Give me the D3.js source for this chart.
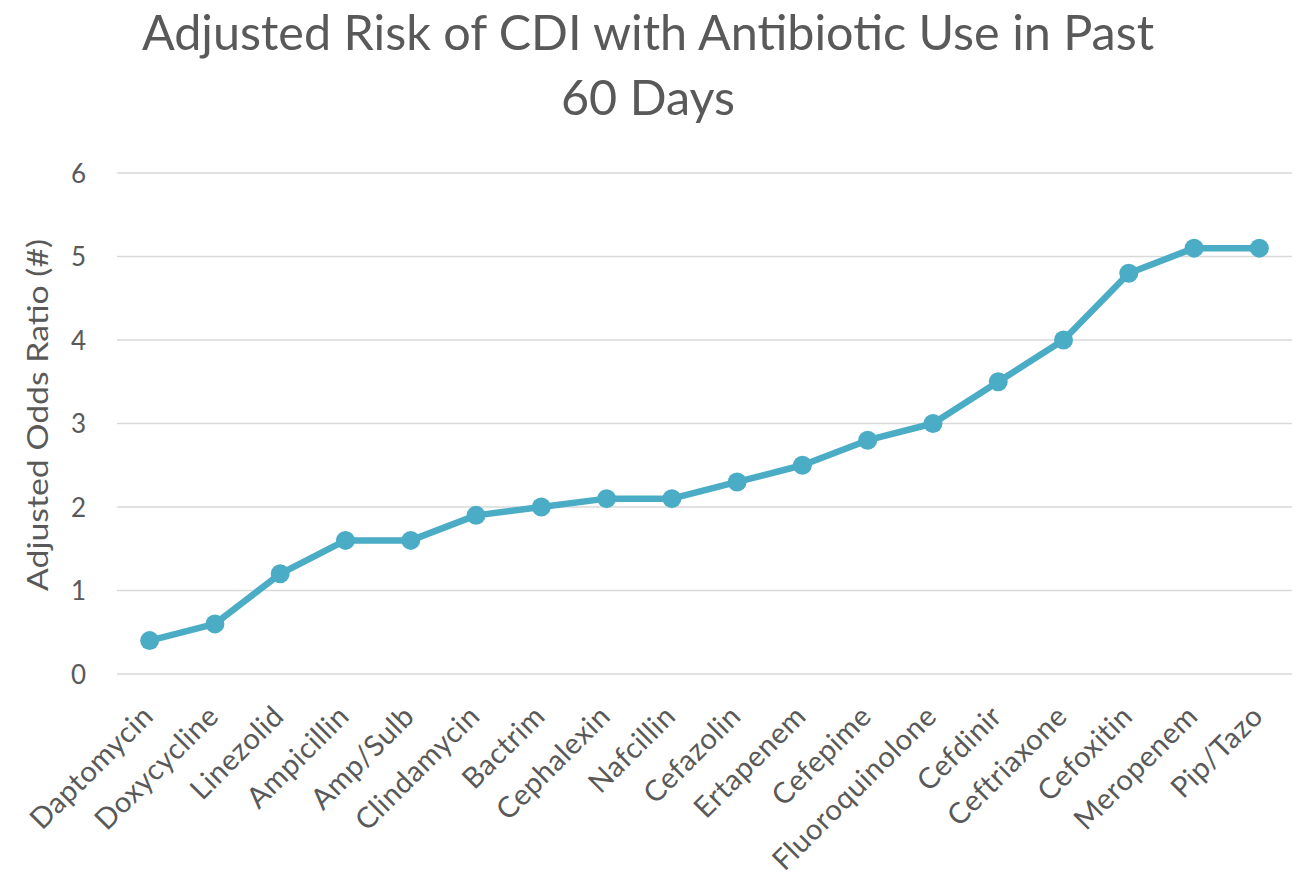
<!DOCTYPE html>
<html><head><meta charset="utf-8">
<script src="https://cdn.jsdelivr.net/npm/d3@7"></script>
<style>body{margin:0;background:#fff}svg{display:block}</style>
</head><body><svg id="c" width="1304" height="880"></svg>
<script>
const categories = ["Daptomycin","Doxycycline","Linezolid","Ampicillin","Amp/Sulb","Clindamycin","Bactrim","Cephalexin","Nafcillin","Cefazolin","Ertapenem","Cefepime","Fluoroquinolone","Cefdinir","Ceftriaxone","Cefoxitin","Meropenem","Pip/Tazo"];
const values = [0.4,0.6,1.2,1.6,1.6,1.9,2.0,2.1,2.1,2.3,2.5,2.8,3.0,3.5,4.0,4.8,5.1,5.1];
const yTicks = [0,1,2,3,4,5,6];
const titleLines = ["Adjusted Risk of CDI with Antibiotic Use in Past","60 Days"];
const yTitle = "Adjusted Odds Ratio (#)";

(function(){
const svg = d3.select("#c");
const font = "Lato, 'Open Sans', sans-serif";
const L = 117, R = 1292, T = 173, B = 674;
const x = d3.scalePoint().domain(categories).range([L, R]).padding(0.5);
const y = d3.scaleLinear().domain([0,6]).range([B, T]);

svg.append("g").selectAll("line").data(yTicks).join("line")
  .attr("x1", L).attr("x2", R)
  .attr("y1", d=>y(d)).attr("y2", d=>y(d))
  .attr("stroke", "#d9d9d9").attr("stroke-width", 1.5);

const yAxis = d3.axisLeft(y).tickValues(yTicks).tickFormat(d3.format("d")).tickSize(0).tickPadding(0);
const ga = svg.append("g").attr("transform", `translate(${86},0)`).call(yAxis);
ga.select(".domain").remove();
ga.selectAll("text").attr("font-family", font).attr("font-size", 26).attr("fill", "#595959").attr("dy","0.35em");

const xAxis = d3.axisBottom(x).tickSize(0).tickPadding(0);
const gx = svg.append("g").attr("transform", `translate(0,${B})`).call(xAxis);
gx.select(".domain").remove();
gx.selectAll("text").attr("font-family", font).attr("font-size", 29).attr("fill", "#595959")
  .attr("text-anchor", "end").attr("dy", null).attr("y", 0)
  .attr("letter-spacing", 0.6)
  .attr("transform", "translate(5,44) rotate(-45)");

const line = d3.line().x((d,i)=>x(categories[i])).y(d=>y(d));
svg.append("path").datum(values).attr("d", line)
  .attr("fill","none").attr("stroke","#4bacc6").attr("stroke-width",6.5).attr("stroke-linejoin","round");
svg.append("g").selectAll("circle").data(values).join("circle")
  .attr("cx",(d,i)=>x(categories[i])).attr("cy",d=>y(d)).attr("r",9.5).attr("fill","#4bacc6");

svg.append("text").attr("transform",`translate(48,415) rotate(-90)`)
  .attr("text-anchor","middle").attr("font-family",font).attr("font-size",29)
  .attr("textLength",352).attr("lengthAdjust","spacingAndGlyphs")
  .attr("fill","#595959").text(yTitle);

svg.append("g").selectAll("text").data(titleLines).join("text")
  .attr("x", 648).attr("y",(d,i)=>50+i*65).attr("text-anchor","middle")
  .attr("font-family",font).attr("font-size",48.5).attr("fill","#595959").text(d=>d);
})();
</script></body></html>
